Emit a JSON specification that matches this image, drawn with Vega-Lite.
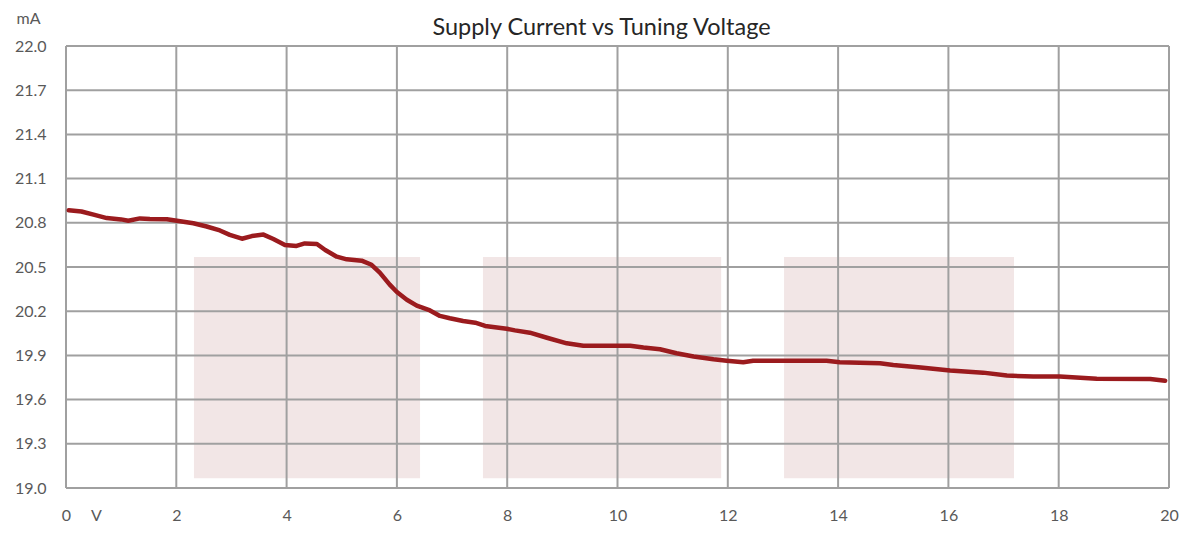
{
  "$schema": "https://vega.github.io/schema/vega-lite/v6.json",
  "width": 1103,
  "height": 442,
  "autosize": "none",
  "padding": {"left": 66, "top": 46, "right": 25, "bottom": 47},
  "background": "white",
  "config": {
    "view": {"stroke": null},
    "font": "Lato",
    "axis": {
      "grid": false,
      "domain": false,
      "ticks": false,
      "labelFont": "Lato",
      "labelFontSize": 16,
      "labelColor": "#595959",
      "titleFont": "Lato",
      "titleFontSize": 16,
      "titleFontWeight": "normal",
      "titleColor": "#595959"
    }
  },
  "title": {
    "text": "Supply Current vs Tuning Voltage",
    "fontSize": 23.5,
    "fontWeight": "normal",
    "font": "Lato",
    "color": "#262626",
    "offset": -29,
    "dx": -16
  },
  "datasets": {
    "bands": [
      {"x": 2.32, "x2": 6.42, "y": 19.067, "y2": 20.568},
      {"x": 7.56, "x2": 11.88, "y": 19.067, "y2": 20.568},
      {"x": 13.02, "x2": 17.19, "y": 19.067, "y2": 20.568}
    ],
    "xgrid": [{"x": 0}, {"x": 2}, {"x": 4}, {"x": 6}, {"x": 8}, {"x": 10}, {"x": 12}, {"x": 14}, {"x": 16}, {"x": 18}, {"x": 20}],
    "ygrid": [{"y": 19.0}, {"y": 19.3}, {"y": 19.6}, {"y": 19.9}, {"y": 20.2}, {"y": 20.5}, {"y": 20.8}, {"y": 21.1}, {"y": 21.4}, {"y": 21.7}, {"y": 22.0}],
    "curve": [
      {"x": 0.05, "y": 20.885},
      {"x": 0.28, "y": 20.877},
      {"x": 0.5, "y": 20.855},
      {"x": 0.74, "y": 20.832},
      {"x": 1.0, "y": 20.823},
      {"x": 1.13, "y": 20.814},
      {"x": 1.34, "y": 20.83},
      {"x": 1.52, "y": 20.826},
      {"x": 1.83, "y": 20.824},
      {"x": 2.07, "y": 20.81},
      {"x": 2.31, "y": 20.797},
      {"x": 2.55, "y": 20.775},
      {"x": 2.79, "y": 20.748},
      {"x": 2.97, "y": 20.718},
      {"x": 3.19, "y": 20.692},
      {"x": 3.37, "y": 20.71},
      {"x": 3.58, "y": 20.72},
      {"x": 3.76, "y": 20.69},
      {"x": 3.97, "y": 20.65},
      {"x": 4.18, "y": 20.643},
      {"x": 4.33, "y": 20.66},
      {"x": 4.55, "y": 20.656},
      {"x": 4.7, "y": 20.615},
      {"x": 4.91, "y": 20.57},
      {"x": 5.09, "y": 20.552},
      {"x": 5.36, "y": 20.543},
      {"x": 5.54, "y": 20.515},
      {"x": 5.69, "y": 20.462},
      {"x": 5.87, "y": 20.38},
      {"x": 6.0, "y": 20.33},
      {"x": 6.18, "y": 20.278},
      {"x": 6.36, "y": 20.238},
      {"x": 6.6, "y": 20.205},
      {"x": 6.78, "y": 20.168},
      {"x": 6.96, "y": 20.152},
      {"x": 7.2, "y": 20.133},
      {"x": 7.42, "y": 20.122},
      {"x": 7.6, "y": 20.1},
      {"x": 7.99, "y": 20.081},
      {"x": 8.14, "y": 20.07},
      {"x": 8.41, "y": 20.054},
      {"x": 8.72, "y": 20.02},
      {"x": 9.08, "y": 19.982},
      {"x": 9.38, "y": 19.965},
      {"x": 9.68, "y": 19.965},
      {"x": 10.23, "y": 19.965},
      {"x": 10.47, "y": 19.953},
      {"x": 10.77, "y": 19.942},
      {"x": 11.07, "y": 19.915},
      {"x": 11.38, "y": 19.893},
      {"x": 11.74, "y": 19.874},
      {"x": 11.98, "y": 19.864},
      {"x": 12.28, "y": 19.853},
      {"x": 12.46, "y": 19.864},
      {"x": 13.79, "y": 19.863},
      {"x": 14.03, "y": 19.853},
      {"x": 14.76, "y": 19.846},
      {"x": 15.0, "y": 19.835},
      {"x": 15.5, "y": 19.818},
      {"x": 16.03, "y": 19.797},
      {"x": 16.63, "y": 19.783},
      {"x": 17.06, "y": 19.763},
      {"x": 17.54, "y": 19.757},
      {"x": 18.02, "y": 19.756},
      {"x": 18.69, "y": 19.741},
      {"x": 19.66, "y": 19.74},
      {"x": 19.93, "y": 19.728}
    ]
  },
  "layer": [
    {
      "data": {"name": "bands"},
      "mark": {"type": "rect", "color": "#f2e6e6"},
      "encoding": {
        "x": {
          "field": "x", "type": "quantitative",
          "scale": {"domain": [0, 20], "nice": false, "zero": false},
          "axis": {
            "values": [0, 2, 4, 6, 8, 10, 12, 14, 16, 18, 20],
            "labelPadding": 19,
            "title": "V",
            "titleX": 30,
            "titleY": 27,
            "titleAlign": "center",
            "titleBaseline": "middle",
            "labelFlush": false
          }
        },
        "x2": {"field": "x2"},
        "y": {
          "field": "y", "type": "quantitative",
          "scale": {"domain": [19, 22], "nice": false, "zero": false},
          "axis": {
            "values": [19.0, 19.3, 19.6, 19.9, 20.2, 20.5, 20.8, 21.1, 21.4, 21.7, 22.0],
            "format": ".1f",
            "labelPadding": 20,
            "title": "mA",
            "titleAngle": 0,
            "titleX": -38,
            "titleY": -28,
            "titleAlign": "center",
            "titleBaseline": "middle",
            "labelFlush": false
          }
        },
        "y2": {"field": "y2"}
      }
    },
    {
      "data": {"name": "xgrid"},
      "mark": {"type": "rule", "color": "#a0a0a0", "strokeWidth": 2},
      "encoding": {"x": {"field": "x", "type": "quantitative"}}
    },
    {
      "data": {"name": "ygrid"},
      "mark": {"type": "rule", "color": "#a0a0a0", "strokeWidth": 2},
      "encoding": {"y": {"field": "y", "type": "quantitative"}}
    },
    {
      "data": {"name": "curve"},
      "mark": {"type": "line", "color": "#9b1b1e", "strokeWidth": 4.5, "strokeJoin": "round", "strokeCap": "round"},
      "encoding": {
        "x": {"field": "x", "type": "quantitative"},
        "y": {"field": "y", "type": "quantitative"}
      }
    }
  ]
}
